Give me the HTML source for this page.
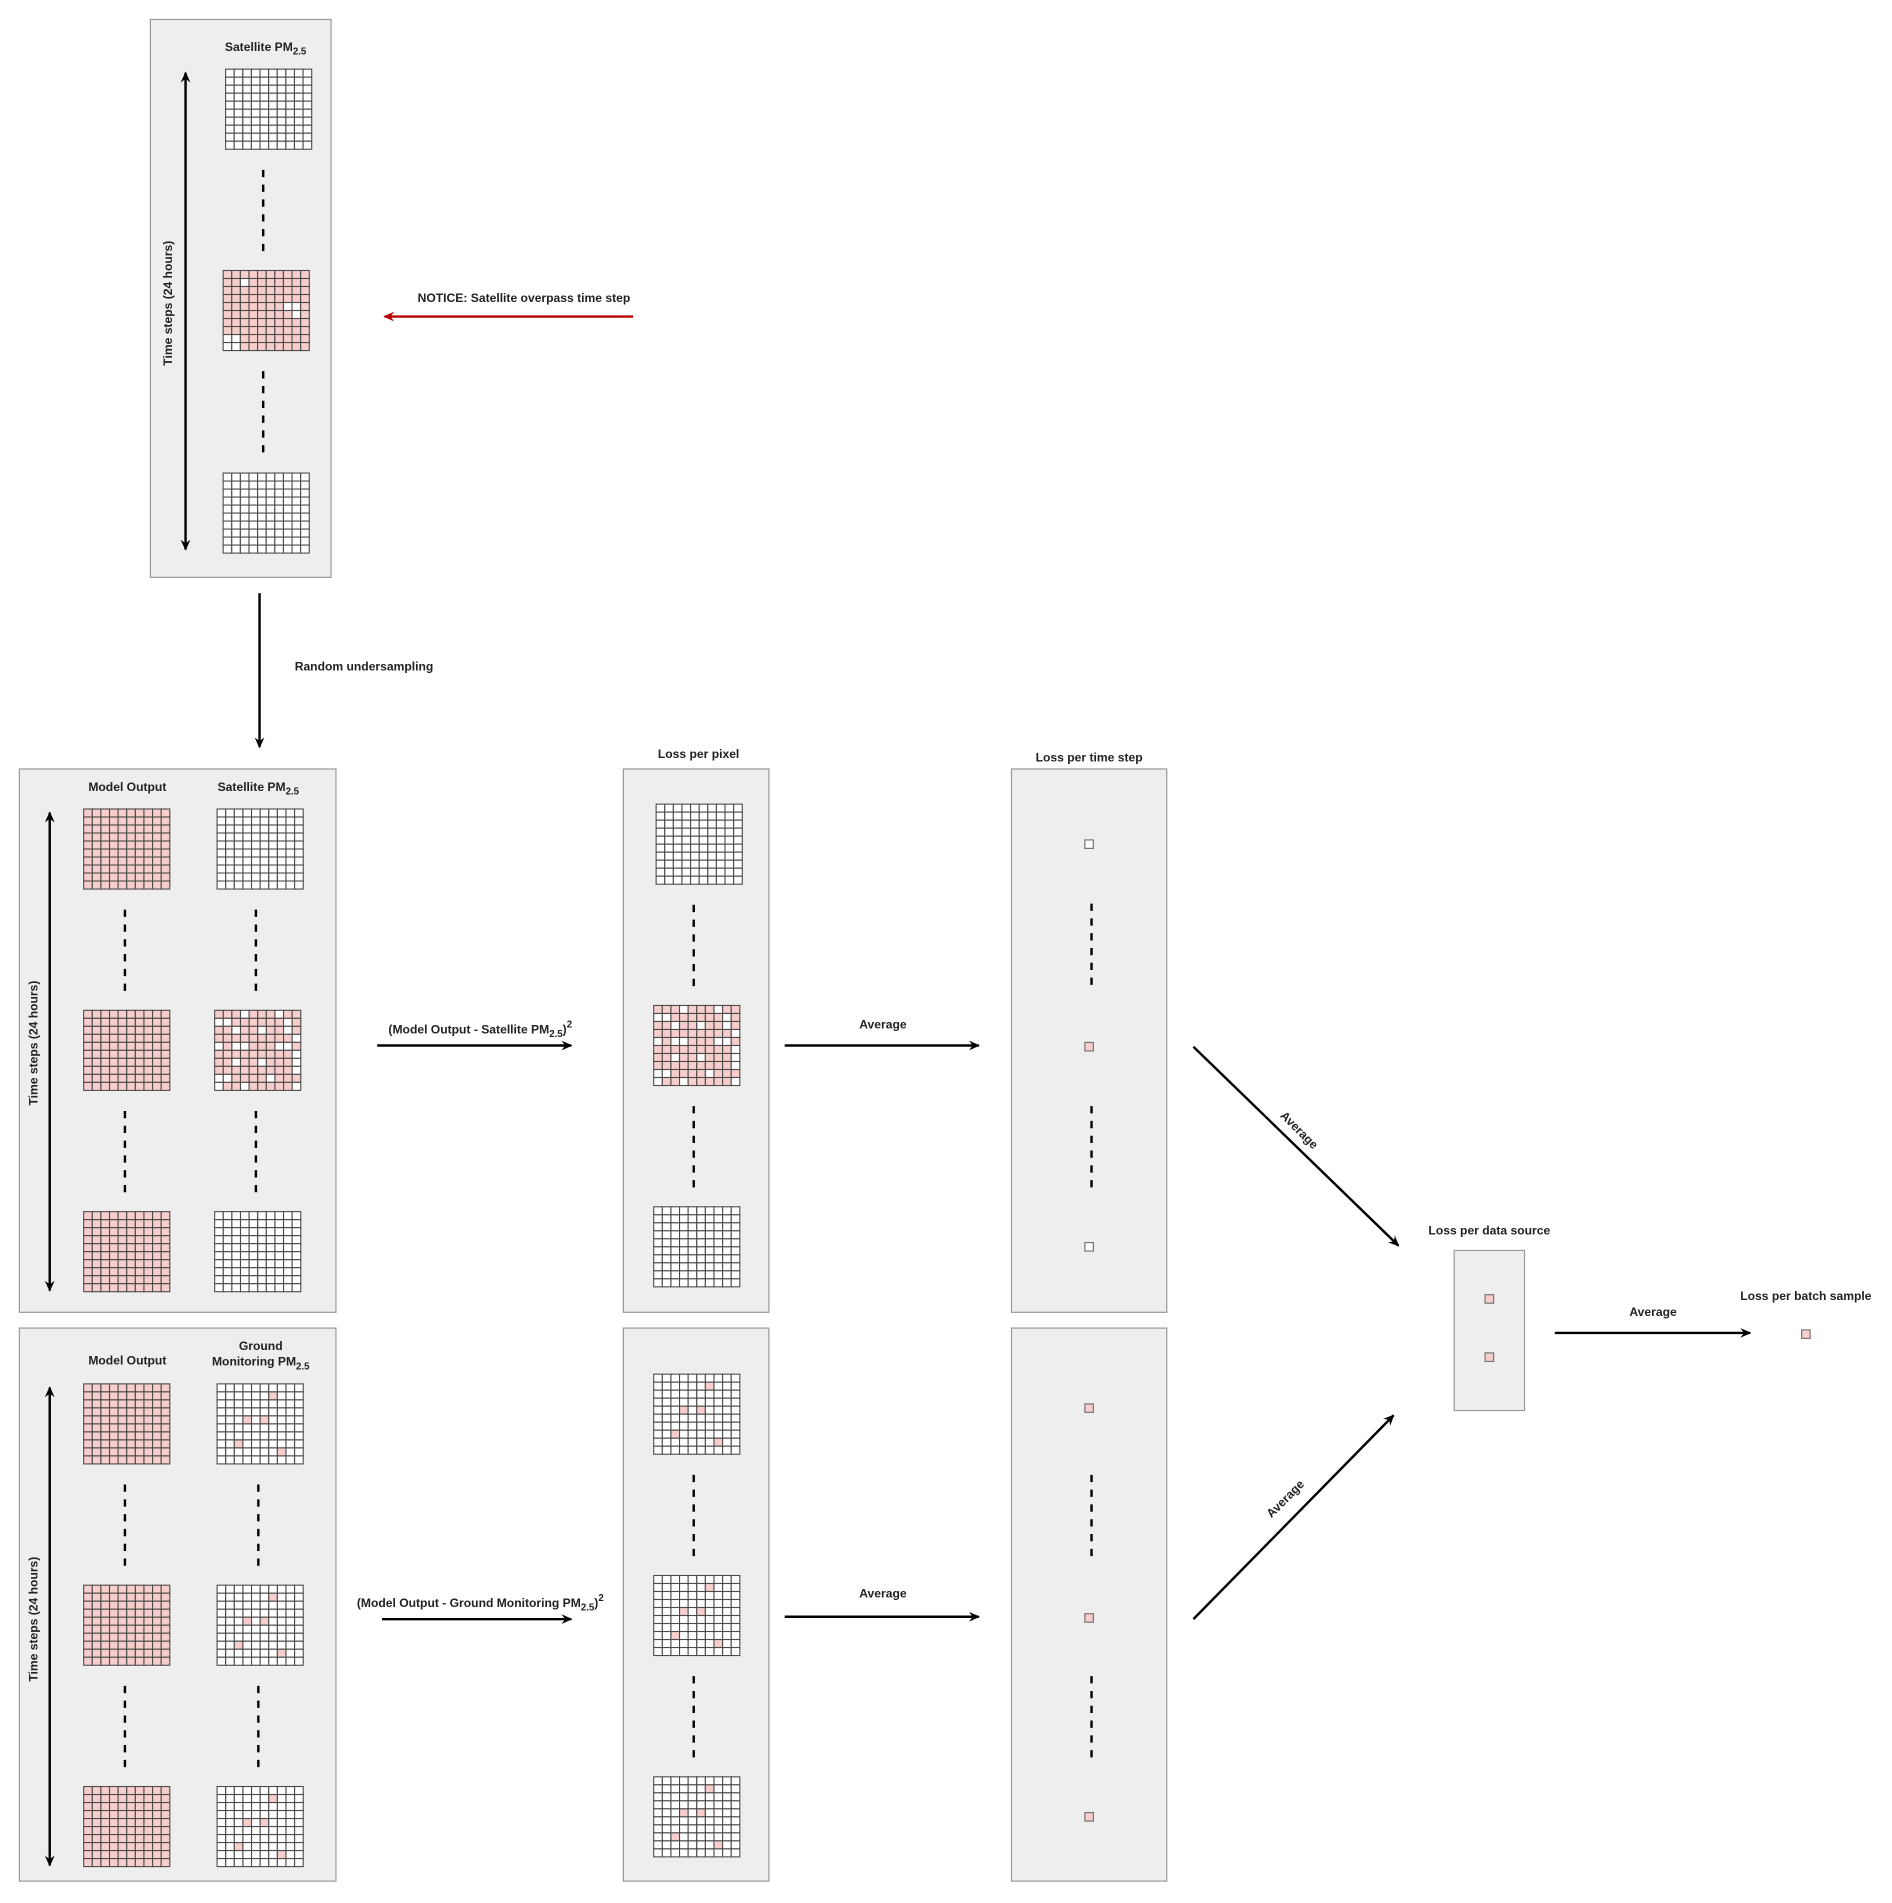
<!DOCTYPE html>
<html><head><meta charset="utf-8"><style>
html,body{margin:0;padding:0;background:#fff;}
svg{display:block}
text{font-family:"Liberation Sans",Arial,sans-serif;font-weight:bold;font-size:10px;fill:#222;}
</style></head><body>
<svg id="s" xmlns="http://www.w3.org/2000/svg" width="1892" height="1903" viewBox="0 0 1560 1569">
<defs>
<marker id="ah" markerWidth="10" markerHeight="10" refX="8" refY="5" orient="auto" markerUnits="userSpaceOnUse"><path d="M0,1 L9,5 L0,9 L3,5 z" fill="#000"/></marker>
<marker id="ahs" markerWidth="10" markerHeight="10" refX="2" refY="5" orient="auto" markerUnits="userSpaceOnUse"><path d="M10,1 L1,5 L10,9 L7,5 z" fill="#000"/></marker>
<marker id="ahr" markerWidth="12" markerHeight="10" refX="8" refY="5" orient="auto" markerUnits="userSpaceOnUse"><path d="M0,1 L9,5 L0,9 L3,5 z" fill="#b80000"/></marker>
</defs>
<g fill="#eeeeee" stroke="#9a9a9a" stroke-width="1">
<rect x="124" y="16" width="149" height="460"/>
<rect x="16" y="634" width="261" height="448"/>
<rect x="16" y="1095" width="261" height="456"/>
<rect x="514" y="634" width="120" height="448"/>
<rect x="514" y="1095" width="120" height="456"/>
<rect x="834" y="634" width="128" height="448"/>
<rect x="834" y="1095" width="128" height="456"/>
<rect x="1199" y="1031" width="58" height="132"/>
</g>
<g id="grids"></g>
<g stroke="#000" stroke-width="2" stroke-dasharray="6,6.2" fill="none">
<path d="M217 140V207M217 306V373"/>
<path d="M103 750V817M103 916V983M211 750V817M211 916V983"/>
<path d="M572 746V813M572 912V979"/>
<path d="M900 745V812M900 912V979"/>
<path d="M103 1224V1291M103 1390V1457M213 1224V1291M213 1390V1457"/>
<path d="M572 1216V1283M572 1382V1449"/>
<path d="M900 1216V1283M900 1382V1449"/>
</g>
<g stroke="#000" stroke-width="2" fill="none">
<line x1="153" y1="60" x2="153" y2="453" marker-start="url(#ahs)" marker-end="url(#ah)"/>
<line x1="41" y1="670" x2="41" y2="1064" marker-start="url(#ahs)" marker-end="url(#ah)"/>
<line x1="41" y1="1144" x2="41" y2="1538" marker-start="url(#ahs)" marker-end="url(#ah)"/>
<line x1="214" y1="489" x2="214" y2="616" marker-end="url(#ah)"/>
<line x1="311" y1="862" x2="471" y2="862" marker-end="url(#ah)"/>
<line x1="647" y1="862" x2="807" y2="862" marker-end="url(#ah)"/>
<line x1="315" y1="1335" x2="471" y2="1335" marker-end="url(#ah)"/>
<line x1="647" y1="1333" x2="807" y2="1333" marker-end="url(#ah)"/>
<line x1="984" y1="863" x2="1153" y2="1027" marker-end="url(#ah)"/>
<line x1="984" y1="1335" x2="1149" y2="1167" marker-end="url(#ah)"/>
<line x1="1282" y1="1099" x2="1443" y2="1099" marker-end="url(#ah)"/>
<line x1="522" y1="261" x2="317" y2="261" stroke="#b80000" marker-end="url(#ahr)"/>
</g>
<g fill="#f8cecc" stroke="#777" stroke-width="1">
<rect x="894.5" y="692.5" width="7" height="7" fill="#fff"/>
<rect x="894.5" y="859.5" width="7" height="7"/>
<rect x="894.5" y="1024.5" width="7" height="7" fill="#fff"/>
<rect x="894.5" y="1157.5" width="7" height="7"/>
<rect x="894.5" y="1330.5" width="7" height="7"/>
<rect x="894.5" y="1494.5" width="7" height="7"/>
<rect x="1224.5" y="1067.5" width="7" height="7"/>
<rect x="1224.5" y="1115.5" width="7" height="7"/>
<rect x="1485.5" y="1096.5" width="7" height="7"/>
</g>
<g text-anchor="middle">
<text x="219" y="42">Satellite PM<tspan font-size="8" dy="3">2.5</tspan></text>
<text x="432" y="249">NOTICE: Satellite overpass time step</text>
<text x="243" y="553" text-anchor="start">Random undersampling</text>
<text x="105" y="652">Model Output</text>
<text x="213" y="652">Satellite PM<tspan font-size="8" dy="3">2.5</tspan></text>
<text x="105" y="1125">Model Output</text>
<text x="215" y="1113">Ground</text>
<text x="215" y="1126">Monitoring PM<tspan font-size="8" dy="3">2.5</tspan></text>
<text x="396" y="852">(Model Output - Satellite PM<tspan font-size="8" dy="3">2.5</tspan><tspan dy="-3">)</tspan><tspan font-size="8" dy="-5">2</tspan></text>
<text x="396" y="1325">(Model Output - Ground Monitoring PM<tspan font-size="8" dy="3">2.5</tspan><tspan dy="-3">)</tspan><tspan font-size="8" dy="-5">2</tspan></text>
<text x="576" y="625">Loss per pixel</text>
<text x="898" y="628">Loss per time step</text>
<text x="728" y="848">Average</text>
<text x="728" y="1317">Average</text>
<text x="1363" y="1085">Average</text>
<text x="1228" y="1018">Loss per data source</text>
<text x="1489" y="1072">Loss per batch sample</text>
<text transform="translate(1071,932) rotate(45)" y="3">Average</text>
<text transform="translate(1060,1236) rotate(-45)" y="3">Average</text>
<text transform="translate(138,250) rotate(-90)" y="4">Time steps (24 hours)</text>
<text transform="translate(27,860) rotate(-90)" y="4">Time steps (24 hours)</text>
<text transform="translate(27,1335) rotate(-90)" y="4">Time steps (24 hours)</text>
</g>
</svg>
<script>
var NS="http://www.w3.org/2000/svg",G=document.getElementById("grids");
var W1=new Set(["0,3","0,7","1,0","1,1","1,8","2,2","2,5","2,8","3,9","4,0","4,2","4,3","4,7","4,8","5,9","6,2","6,5","6,9","7,9","8,0","8,1","8,6","9,0","9,3","9,9"]);
var W0=new Set(["1,2","4,7","4,8","5,8","8,0","8,1","9,0","9,1"]);
var S=new Set(["1,6","4,3","4,5","7,2","8,7"]);
function grid(x,y,mode){
 var w=71,h=66,cw=w/10,ch=h/10;
 for(var r=0;r<10;r++)for(var c=0;c<10;c++){
  var k=r+","+c,f="#fff";
  if(mode=="pink")f="#f8cecc";
  else if(mode=="top")f=W0.has(k)?"#fff":"#f8cecc";
  else if(mode=="mix")f=W1.has(k)?"#fff":"#f8cecc";
  else if(mode=="sparse")f=S.has(k)?"#f8cecc":"#fff";
  var e=document.createElementNS(NS,"rect");
  e.setAttribute("x",x+c*cw);e.setAttribute("y",y+r*ch);
  e.setAttribute("width",cw);e.setAttribute("height",ch);
  e.setAttribute("fill",f);e.setAttribute("stroke","#4a4a4a");e.setAttribute("stroke-width","0.9");
  G.appendChild(e);
 }
}
grid(186,57,"white");grid(184,223,"top");grid(184,390,"white");
grid(69,667,"pink");grid(69,833,"pink");grid(69,999,"pink");
grid(179,667,"white");grid(177,833,"mix");grid(177,999,"white");
grid(541,663,"white");grid(539,829,"mix");grid(539,995,"white");
grid(69,1141,"pink");grid(69,1307,"pink");grid(69,1473,"pink");
grid(179,1141,"sparse");grid(179,1307,"sparse");grid(179,1473,"sparse");
grid(539,1133,"sparse");grid(539,1299,"sparse");grid(539,1465,"sparse");
</script>
</body></html>
